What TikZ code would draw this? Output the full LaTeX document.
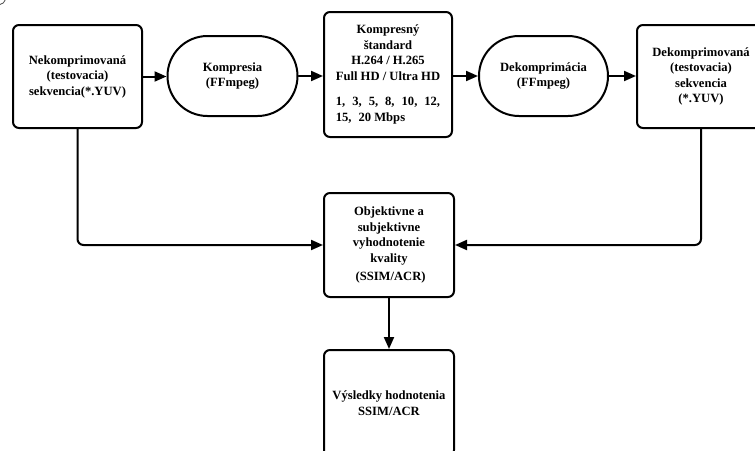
\documentclass[tikz,border=0pt]{standalone}
\usepackage{fontspec}
\setmainfont{Liberation Serif}
\usetikzlibrary{arrows.meta}

% wider gap used between the listed bitrates
\newcommand{\rategap}{\hspace{7pt}}

\tikzset{
  flowline/.style={line width=2pt, line cap=round, line join=round,
    -{Triangle[length=12pt,width=10pt]}},
  boxbase/.style={draw, line width=2pt, fill=white, align=center,
    font=\fontsize{12.6}{15.5}\selectfont\bfseries, inner sep=0pt},
  datastep/.style={boxbase, rectangle, rounded corners=6pt},
  procstep/.style={boxbase, rectangle, rounded corners=40pt,
    minimum width=130pt, minimum height=80pt},
}

\begin{document}
\begin{tikzpicture}[x=1pt, y=-1pt]
  \useasboundingbox (0,0) rectangle (755,450);
  \clip (0,0) rectangle (755,450);
  \fill[white] (0,0) rectangle (755,450);

  % small arc in the upper left corner
  \draw[line width=0.8pt, black!70] (0,4.5) .. controls (2.5,4) and (4.5,2.5) .. (5.5,-0.5);

  % top row
  \node[datastep, minimum width=129pt, minimum height=103pt] (src) at (77.5,76.5)
    {Nekomprimovaná\\(testovacia)\\sekvencia(*.YUV)};
  \node[procstep] (comp) at (232.5,76) {Kompresia\\(FFmpeg)};
  \node[datastep, minimum width=128pt, minimum height=125pt] (std) at (388,74.5)
    {\def\arraystretch{1}\begin{tabular}{@{}c@{}}
      Kompresný\\ štandard\\ H.264 / H.265\\ Full HD / Ultra HD\\[10pt]
      \multicolumn{1}{@{}l@{}}{1,\rategap3,\rategap5,\rategap8,\rategap10,\rategap12,}\\
      \multicolumn{1}{@{}l@{}}{15,\rategap20 Mbps}
    \end{tabular}};
  \node[procstep, minimum width=129pt] (decomp) at (543.5,76) {Dekomprimácia\\(FFmpeg)};
  \node[datastep, minimum width=128pt, minimum height=103pt] (out) at (701,76.5)
    {Dekomprimovaná\\(testovacia)\\sekvencia\\(*.YUV)};

  % evaluation and results
  \node[datastep, minimum width=130pt, minimum height=104pt] (eval) at (389,245)
    {Objektivne a\\subjektivne\\vyhodnotenie\\kvality\\[3pt]\ (SSIM/ACR)};
  \node[datastep, minimum width=130pt, minimum height=106pt] (res) at (389,403)
    {Výsledky hodnotenia\\SSIM/ACR};

  % connectors
  \draw[flowline] (src.east) -- (src.east -| comp.west);
  \draw[flowline] (comp.east) -- (comp.east -| std.west);
  \draw[flowline] (std.east |- decomp.west) -- (decomp.west);
  \draw[flowline] (decomp.east) -- (decomp.east -| out.west);
  \draw[flowline, rounded corners=6pt] (src.south) |- (eval.west);
  \draw[flowline, rounded corners=6pt] (out.south) |- (eval.east);
  \draw[flowline] (eval.south) -- (res.north);
\end{tikzpicture}
\end{document}
